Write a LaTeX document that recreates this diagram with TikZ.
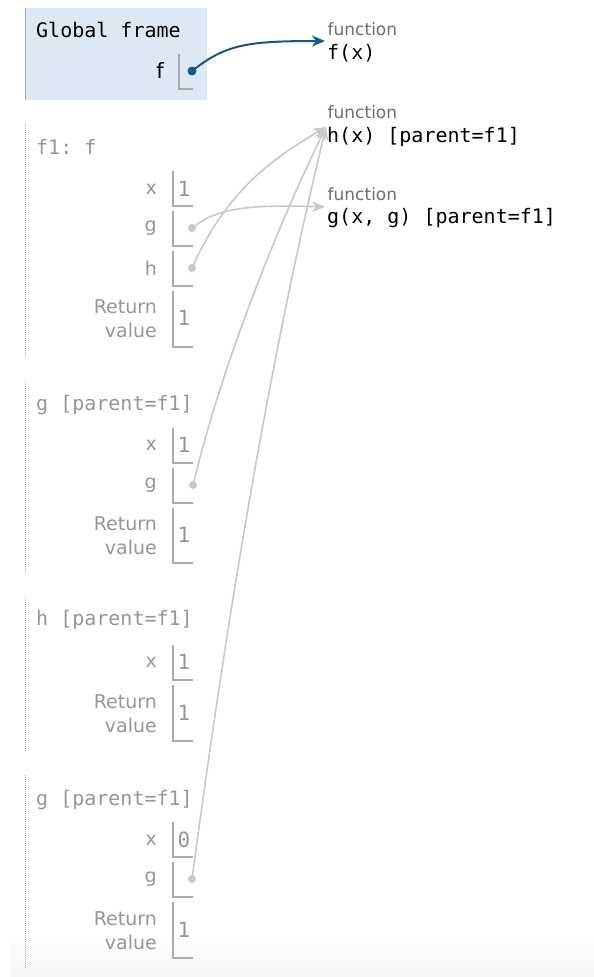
\documentclass[tikz,border=0pt]{standalone}
\usepackage{fontspec}
\setmainfont{DejaVu Sans}
\setmonofont{DejaVu Sans Mono}
\usetikzlibrary{arrows.meta}
\definecolor{framebg}{RGB}{221,232,245}
\definecolor{ptrblue}{RGB}{22,88,133}
\definecolor{inact}{RGB}{150,150,150}
\definecolor{boxline}{RGB}{170,170,170}
\definecolor{ptrgray}{RGB}{200,200,200}
\definecolor{fnlabel}{RGB}{110,110,110}

\begin{document}
\begin{tikzpicture}[x=1pt,y=-1pt,
  title/.style={anchor=west,inner sep=0pt,text=inact,font=\fontsize{20}{22}\ttfamily},
  var/.style={anchor=east,inner sep=0pt,text=inact,align=right,font=\fontsize{19}{24}\selectfont},
  val/.style={anchor=west,inner sep=0pt,text=inact,font=\fontsize{21}{22}\ttfamily},
  fnhead/.style={anchor=west,inner sep=0pt,text=fnlabel,font=\fontsize{17}{20}\selectfont},
  fnbody/.style={anchor=west,inner sep=0pt,font=\fontsize{20}{22}\ttfamily},
  vbox/.style={draw=boxline,line width=1.2pt},
  stack/.style={draw=boxline,line width=1pt,dash pattern=on 1pt off 1pt},
  dot/.style={circle,inner sep=0pt,minimum size=8pt},
  bptr/.style={draw=ptrblue,line width=2pt,-{Stealth[length=13pt,width=11pt,inset=4pt]}},
  gptr/.style={draw=ptrgray,line width=1.6pt,-{Stealth[length=13pt,width=11pt,inset=4pt]}}]
  \useasboundingbox (0,0) rectangle (594,977);
  \shade[top color=white,bottom color=black!4] (10,935) rectangle (594,977);

  \fill[framebg] (25,8) rectangle (207,100);
  \draw[boxline,line width=1.5pt] (25.5,8) -- (25.5,100);
  \node [title,text=black] (gf) at (36,30) {Global frame};
  \node [var,text=black,font=\fontsize{21}{24}\selectfont] (gfx) at (164,71) {f};
  \draw[vbox] (179,54) |- (193,89);
  \node [dot,fill=ptrblue,minimum size=9pt] (gfdot) at (192,71) {};

  \node [fnhead] (ffh) at (327.5,29) {function};
  \node [fnbody] (ffb) at (327,53) {f(x)};
  \node [fnhead] (fhh) at (327.5,112) {function};
  \node [fnbody] (fhb) at (327,137) {h(x) [parent=f1]};
  \node [fnhead] (fgh) at (327.5,194) {function};
  \node [fnbody] (fgb) at (327,218) {g(x, g) [parent=f1]};
  \coordinate (fftip) at (325,41);
  \coordinate (htip) at (326,127);
  \coordinate (gtip) at (325,207);

  \draw[stack] (25,124) -- (25,357);
  \node [title] (f1) at (36,147) {f1: f};
  \node [var] (f1xl) at (157,189) {x};
  \draw[vbox] (173,171) |- (193,206);
  \node [val] (f1xv) at (177.5,189) {1};
  \node [var] (f1gl) at (157,228) {g};
  \draw[vbox] (173,211) |- (193,246);
  \node [var] (f1hl) at (157,268) {h};
  \draw[vbox] (173,251) |- (193,286);
  \node [var] (f1rl) at (157,319) {Return\\value};
  \draw[vbox] (173,291) |- (193,347);
  \node [val] (f1rv) at (177.5,318) {1};

  \draw[stack] (25,382) -- (25,573);
  \node [title] (g1) at (36,405) {g [parent=f1]};
  \node [var] (g1xl) at (157,445) {x};
  \draw[vbox] (173,428) |- (193,463);
  \node [val] (g1xv) at (177.5,445) {1};
  \node [var] (g1gl) at (157,485) {g};
  \draw[vbox] (173,468) |- (193,503);
  \node [var] (g1rl) at (157,536) {Return\\value};
  \draw[vbox] (173,508) |- (193,563);
  \node [val] (g1rv) at (177.5,535) {1};

  \draw[stack] (25,598) -- (25,752);
  \node [title] (h1) at (36,620) {h [parent=f1]};
  \node [var] (h1xl) at (157,662) {x};
  \draw[vbox] (173,645) |- (193,680);
  \node [val] (h1xv) at (177.5,662) {1};
  \node [var] (h1rl) at (157,714) {Return\\value};
  \draw[vbox] (173,685) |- (193,741);
  \node [val] (h1rv) at (177.5,713) {1};

  \draw[stack] (25,775) -- (25,968);
  \node [title] (g2) at (36,800) {g [parent=f1]};
  \node [var] (g2xl) at (157,840) {x};
  \draw[vbox] (173,822) |- (193,857);
  \node [val] (g2xv) at (177.5,840) {0};
  \node [var] (g2gl) at (157,879) {g};
  \draw[vbox] (173,862) |- (193,897);
  \node [var] (g2rl) at (157,931) {Return\\value};
  \draw[vbox] (173,902) |- (193,958);
  \node [val] (g2rv) at (177.5,930) {1};

  \node [dot] (f1g) at (192,228) {};
  \node [dot] (f1h) at (192,268) {};
  \node [dot] (g1g) at (193,485) {};
  \node [dot] (g2g) at (192,879) {};

  \draw[bptr] (gfdot.center) .. controls (225,45) and (245,41) .. (fftip);
  \draw[gptr] (f1g.center) .. controls (215,210) and (240,204) .. (gtip);
  \draw[gptr] (f1h.center) .. controls (225,195) and (265,163) .. (htip);
  \draw[gptr] (g1g.center) .. controls (221,369) and (273,236) .. (htip);
  \draw[gptr] (g2g.center) .. controls (225,632) and (267,371) .. (htip);
  \foreach \d in {f1g,f1h,g1g,g2g}
    \fill[ptrgray] (\d) circle (4pt);
\end{tikzpicture}
\end{document}
